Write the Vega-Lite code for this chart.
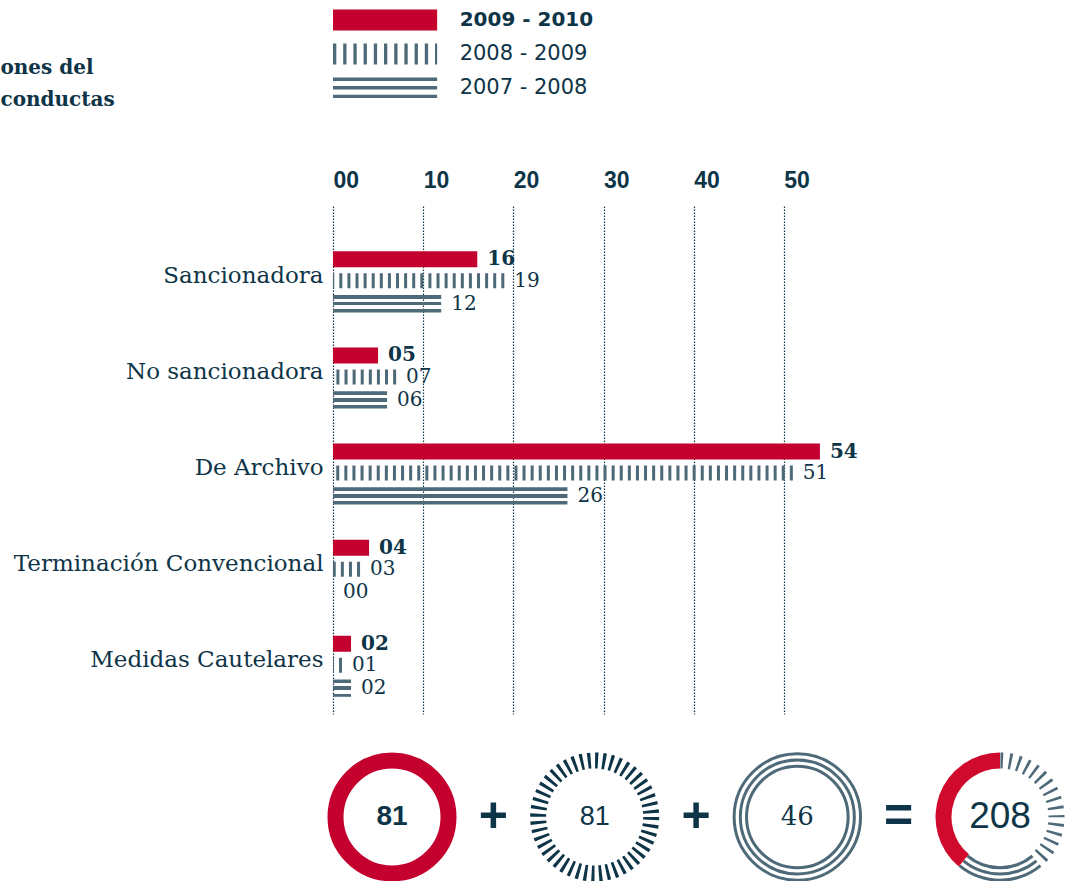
{
  "$schema": "https://vega.github.io/schema/vega-lite/v6.json",
  "background": "white",
  "padding": 0,
  "spacing": 14,
  "config": {"view": {"stroke": null}},
  "datasets": {
    "bars": [
      {"category": "Sancionadora", "series": "2009 - 2010", "value": 16},
      {"category": "Sancionadora", "series": "2008 - 2009", "value": 19},
      {"category": "Sancionadora", "series": "2007 - 2008", "value": 12},
      {"category": "No sancionadora", "series": "2009 - 2010", "value": 5},
      {"category": "No sancionadora", "series": "2008 - 2009", "value": 7},
      {"category": "No sancionadora", "series": "2007 - 2008", "value": 6},
      {"category": "De Archivo", "series": "2009 - 2010", "value": 54},
      {"category": "De Archivo", "series": "2008 - 2009", "value": 51},
      {"category": "De Archivo", "series": "2007 - 2008", "value": 26},
      {"category": "Terminación Convencional", "series": "2009 - 2010", "value": 4},
      {"category": "Terminación Convencional", "series": "2008 - 2009", "value": 3},
      {"category": "Terminación Convencional", "series": "2007 - 2008", "value": 0},
      {"category": "Medidas Cautelares", "series": "2009 - 2010", "value": 2},
      {"category": "Medidas Cautelares", "series": "2008 - 2009", "value": 1},
      {"category": "Medidas Cautelares", "series": "2007 - 2008", "value": 2}
    ],
    "ops": [
      {"slot": "op1", "sym": "+"},
      {"slot": "op2", "sym": "+"},
      {"slot": "op3", "sym": "="}
    ]
  },
  "vconcat": [
    {
      "width": 541,
      "height": 155,
      "data": {"name": "bars"},
      "transform": [{"aggregate": [{"op": "sum", "field": "value", "as": "total"}], "groupby": ["series"]}],
      "encoding": {
        "y": {"field": "series", "type": "nominal", "scale": {"type": "point", "domain": ["2009 - 2010", "2008 - 2009", "2007 - 2008"], "range": [20, 87.8], "padding": 0}, "axis": null}
      },
      "layer": [
        {
          "transform": [{"filter": "datum.series === '2009 - 2010'"}],
          "mark": {"type": "rule", "color": "#c4002f", "strokeWidth": 21, "strokeCap": "butt"},
          "encoding": {"x": {"datum": 0, "type": "quantitative", "scale": {"domain": [0, 60], "nice": false}, "axis": null}, "x2": {"datum": 11.55}}
        },
        {
          "transform": [{"filter": "datum.series === '2008 - 2009'"}],
          "mark": {"type": "rule", "color": "#4e6a78", "strokeWidth": 21, "strokeCap": "butt", "strokeDash": [3.3, 6.9]},
          "encoding": {"x": {"datum": 0, "type": "quantitative"}, "x2": {"datum": 11.55}}
        },
        {
          "transform": [{"filter": "datum.series === '2007 - 2008'"}],
          "mark": {"type": "rule", "color": "#4e6a78", "strokeWidth": 3.4, "strokeCap": "butt", "yOffset": -8.6},
          "encoding": {"x": {"datum": 0, "type": "quantitative"}, "x2": {"datum": 11.55}}
        },
        {
          "transform": [{"filter": "datum.series === '2007 - 2008'"}],
          "mark": {"type": "rule", "color": "#4e6a78", "strokeWidth": 3.4, "strokeCap": "butt"},
          "encoding": {"x": {"datum": 0, "type": "quantitative"}, "x2": {"datum": 11.55}}
        },
        {
          "transform": [{"filter": "datum.series === '2007 - 2008'"}],
          "mark": {"type": "rule", "color": "#4e6a78", "strokeWidth": 3.4, "strokeCap": "butt", "yOffset": 8.6},
          "encoding": {"x": {"datum": 0, "type": "quantitative"}, "x2": {"datum": 11.55}}
        },
        {
          "transform": [{"filter": "datum.series === '2009 - 2010'"}],
          "mark": {"type": "text", "align": "left", "baseline": "middle", "dx": 22.5, "font": "DejaVu Sans", "fontWeight": "bold", "fontSize": 20, "color": "#0e3447"},
          "encoding": {"x": {"datum": 11.55, "type": "quantitative"}, "text": {"field": "series", "type": "nominal"}}
        },
        {
          "transform": [{"filter": "datum.series !== '2009 - 2010'"}],
          "mark": {"type": "text", "align": "left", "baseline": "middle", "dx": 22.5, "font": "DejaVu Sans", "fontSize": 21, "color": "#0e3447"},
          "encoding": {"x": {"datum": 11.55, "type": "quantitative"}, "text": {"field": "series", "type": "nominal"}}
        },
        {
          "transform": [{"filter": "datum.series === '2007 - 2008'"}],
          "mark": {"type": "text", "align": "left", "baseline": "middle", "dy": -19.8, "font": "DejaVu Serif", "fontWeight": "bold", "fontSize": 20, "lineHeight": 32, "color": "#0e3447"},
          "encoding": {"x": {"datum": -36.88, "type": "quantitative"}, "text": {"value": ["ones del", "conductas"]}}
        }
      ]
    },
    {
      "width": 541,
      "height": 508,
      "data": {"name": "bars"},
      "encoding": {
        "y": {
          "field": "category", "type": "nominal",
          "scale": {"domain": ["Sancionadora", "No sancionadora", "De Archivo", "Terminación Convencional", "Medidas Cautelares"], "paddingInner": 0, "paddingOuter": 0.143, "align": 1},
          "axis": {"title": null, "ticks": false, "domain": false, "labelFont": "DejaVu Serif", "labelFontSize": 23, "labelColor": "#0e3447", "labelPadding": 10, "labelOffset": -6, "labelLimit": 400}
        }
      },
      "layer": [
        {
          "transform": [{"filter": "datum.series === '2009 - 2010'"}],
          "mark": {"type": "bar", "color": "#c4002f", "size": 16, "yOffset": -22.2},
          "encoding": {
            "x": {
              "field": "value", "type": "quantitative",
              "scale": {"domain": [0, 60], "nice": false},
              "axis": {"orient": "top", "values": [0, 10, 20, 30, 40, 50], "format": "02d", "title": null, "labelAlign": "left", "labelBaseline": "middle", "labelFont": "Liberation Sans", "labelFontWeight": "bold", "labelFontSize": 23, "labelColor": "#0e3447", "labelPadding": 26, "ticks": false, "tickSize": 0, "domain": false, "grid": true, "gridColor": "#0e3447", "gridDash": [1.5, 1.5], "gridWidth": 1.2, "gridOpacity": 1, "labelFlush": false, "labelOverlap": false}
            }
          }
        },
        {
          "transform": [{"filter": "datum.series === '2009 - 2010'"}],
          "mark": {"type": "text", "align": "left", "baseline": "middle", "dx": 10, "yOffset": -22.2, "font": "DejaVu Serif", "fontWeight": "bold", "fontSize": 20, "color": "#0e3447"},
          "encoding": {"x": {"field": "value", "type": "quantitative", "title": null}, "text": {"field": "value", "type": "quantitative", "format": "02d"}}
        },
        {
          "transform": [{"filter": "datum.series === '2008 - 2009'"}],
          "mark": {"type": "rule", "color": "#4e6a78", "strokeWidth": 15, "strokeDash": [3, 5.1], "strokeCap": "butt", "yOffset": -0.7},
          "encoding": {"x": {"field": "value", "type": "quantitative", "title": null}, "x2": {"datum": 0}}
        },
        {
          "transform": [{"filter": "datum.series === '2008 - 2009'"}],
          "mark": {"type": "text", "align": "left", "baseline": "middle", "dx": 10, "yOffset": -0.7, "font": "DejaVu Serif", "fontSize": 20, "color": "#0e3447"},
          "encoding": {"x": {"field": "value", "type": "quantitative", "title": null}, "text": {"field": "value", "type": "quantitative", "format": "02d"}}
        },
        {
          "transform": [{"filter": "datum.series === '2007 - 2008'"}],
          "mark": {
            "type": "bar", "size": 17.3, "yOffset": 22.2,
            "fill": {"gradient": "linear", "x1": 0, "y1": 0, "x2": 0, "y2": 1, "stops": [
              {"offset": 0, "color": "#4e6a78"}, {"offset": 0.2, "color": "#4e6a78"},
              {"offset": 0.2, "color": "rgba(255,255,255,0)"}, {"offset": 0.4, "color": "rgba(255,255,255,0)"},
              {"offset": 0.4, "color": "#4e6a78"}, {"offset": 0.6, "color": "#4e6a78"},
              {"offset": 0.6, "color": "rgba(255,255,255,0)"}, {"offset": 0.81, "color": "rgba(255,255,255,0)"},
              {"offset": 0.81, "color": "#4e6a78"}, {"offset": 1, "color": "#4e6a78"}
            ]}
          },
          "encoding": {"x": {"field": "value", "type": "quantitative", "title": null}}
        },
        {
          "transform": [{"filter": "datum.series === '2007 - 2008'"}],
          "mark": {"type": "text", "align": "left", "baseline": "middle", "dx": 10, "yOffset": 22.2, "font": "DejaVu Serif", "fontSize": 20, "color": "#0e3447"},
          "encoding": {"x": {"field": "value", "type": "quantitative", "title": null}, "text": {"field": "value", "type": "quantitative", "format": "02d"}}
        }
      ]
    },
    {
      "width": 700,
      "height": 100,
      "layer": [
        {
          "data": {"name": "bars"},
          "transform": [{"aggregate": [{"op": "sum", "field": "value", "as": "total"}], "groupby": ["series"]}, {"filter": "datum.series === '2009 - 2010'"}],
          "mark": {"type": "point", "shape": "circle", "filled": false, "stroke": "#c4002f", "strokeWidth": 16, "size": 12769, "opacity": 1},
          "encoding": {"x": {"field": "series", "type": "nominal", "scale": {"type": "point", "domain": ["2009 - 2010", "op1", "2008 - 2009", "op2", "2007 - 2008", "op3", "Total"], "range": [59, 667], "padding": 0}, "axis": null}}
        },
        {
          "data": {"name": "bars"},
          "transform": [{"aggregate": [{"op": "sum", "field": "value", "as": "total"}], "groupby": ["series"]}, {"filter": "datum.series === '2008 - 2009'"}],
          "mark": {"type": "point", "shape": "circle", "filled": false, "stroke": "#0e3447", "strokeWidth": 16, "strokeDash": [3, 4.396], "strokeCap": "butt", "size": 12769, "opacity": 1},
          "encoding": {"x": {"field": "series", "type": "nominal"}}
        },
        {
          "data": {"name": "bars"},
          "transform": [{"aggregate": [{"op": "sum", "field": "value", "as": "total"}], "groupby": ["series"]}, {"filter": "datum.series === '2007 - 2008'"}],
          "mark": {"type": "point", "shape": "circle", "filled": false, "stroke": "#4e6a78", "strokeWidth": 3, "size": 15977, "opacity": 1},
          "encoding": {"x": {"field": "series", "type": "nominal"}}
        },
        {
          "data": {"name": "bars"},
          "transform": [{"aggregate": [{"op": "sum", "field": "value", "as": "total"}], "groupby": ["series"]}, {"filter": "datum.series === '2007 - 2008'"}],
          "mark": {"type": "point", "shape": "circle", "filled": false, "stroke": "#4e6a78", "strokeWidth": 3, "size": 12996, "opacity": 1},
          "encoding": {"x": {"field": "series", "type": "nominal"}}
        },
        {
          "data": {"name": "bars"},
          "transform": [{"aggregate": [{"op": "sum", "field": "value", "as": "total"}], "groupby": ["series"]}, {"filter": "datum.series === '2007 - 2008'"}],
          "mark": {"type": "point", "shape": "circle", "filled": false, "stroke": "#4e6a78", "strokeWidth": 3, "size": 10322, "opacity": 1},
          "encoding": {"x": {"field": "series", "type": "nominal"}}
        },
        {
          "data": {"name": "bars"},
          "transform": [{"aggregate": [{"op": "sum", "field": "value", "as": "total"}], "groupby": ["series"]}, {"filter": "datum.series === '2008 - 2009'"}],
          "mark": {"type": "point", "shape": "circle", "filled": false, "stroke": "#4e6a78", "strokeWidth": 16, "strokeCap": "butt", "size": 12769, "opacity": 1,
            "strokeDash": [2.6, 6.04, 2.6, 6.04, 2.6, 6.04, 2.6, 6.04, 2.6, 6.04, 2.6, 6.04, 2.6, 6.04, 2.6, 6.04, 2.6, 6.04, 2.6, 6.04, 2.6, 6.04, 2.6, 6.04, 2.6, 6.04, 2.6, 6.04, 2.6, 6.04, 2.6, 222.8],
            "strokeDashOffset": 88.75},
          "encoding": {"x": {"datum": "Total", "type": "nominal"}}
        },
        {
          "data": {"name": "bars"},
          "transform": [{"aggregate": [{"op": "sum", "field": "value", "as": "total"}], "groupby": ["series"]}],
          "mark": {"type": "arc", "innerRadius": 48.5, "outerRadius": 64.5},
          "encoding": {
            "x": {"datum": "Total", "type": "nominal"},
            "theta": {"field": "total", "type": "quantitative", "stack": true, "scale": {"range": [-2.4468, 3.8364]}},
            "order": {"field": "series", "type": "ordinal", "sort": "descending"},
            "detail": {"field": "series", "type": "nominal"},
            "fill": {"condition": {"test": "datum.series === '2009 - 2010'", "value": "#cf0a2c"}, "value": "transparent"}
          }
        },
        {
          "data": {"name": "bars"},
          "transform": [{"aggregate": [{"op": "sum", "field": "value", "as": "total"}], "groupby": ["series"]}],
          "mark": {"type": "arc", "innerRadius": 61.7, "outerRadius": 64.7},
          "encoding": {
            "x": {"datum": "Total", "type": "nominal"},
            "theta": {"field": "total", "type": "quantitative", "stack": true},
            "order": {"field": "series", "type": "ordinal", "sort": "descending"},
            "detail": {"field": "series", "type": "nominal"},
            "fill": {"condition": {"test": "datum.series === '2007 - 2008'", "value": "#4e6a78"}, "value": "transparent"}
          }
        },
        {
          "data": {"name": "bars"},
          "transform": [{"aggregate": [{"op": "sum", "field": "value", "as": "total"}], "groupby": ["series"]}],
          "mark": {"type": "arc", "innerRadius": 55.5, "outerRadius": 58.5},
          "encoding": {
            "x": {"datum": "Total", "type": "nominal"},
            "theta": {"field": "total", "type": "quantitative", "stack": true},
            "order": {"field": "series", "type": "ordinal", "sort": "descending"},
            "detail": {"field": "series", "type": "nominal"},
            "fill": {"condition": {"test": "datum.series === '2007 - 2008'", "value": "#4e6a78"}, "value": "transparent"}
          }
        },
        {
          "data": {"name": "bars"},
          "transform": [{"aggregate": [{"op": "sum", "field": "value", "as": "total"}], "groupby": ["series"]}],
          "mark": {"type": "arc", "innerRadius": 49.3, "outerRadius": 52.3},
          "encoding": {
            "x": {"datum": "Total", "type": "nominal"},
            "theta": {"field": "total", "type": "quantitative", "stack": true},
            "order": {"field": "series", "type": "ordinal", "sort": "descending"},
            "detail": {"field": "series", "type": "nominal"},
            "fill": {"condition": {"test": "datum.series === '2007 - 2008'", "value": "#4e6a78"}, "value": "transparent"}
          }
        },
        {
          "data": {"name": "bars"},
          "transform": [{"aggregate": [{"op": "sum", "field": "value", "as": "total"}], "groupby": ["series"]}, {"filter": "datum.series === '2009 - 2010'"}],
          "mark": {"type": "text", "baseline": "middle", "font": "Liberation Sans", "fontWeight": "bold", "fontSize": 28, "color": "#0e3447"},
          "encoding": {"x": {"field": "series", "type": "nominal"}, "text": {"field": "total", "type": "quantitative"}}
        },
        {
          "data": {"name": "bars"},
          "transform": [{"aggregate": [{"op": "sum", "field": "value", "as": "total"}], "groupby": ["series"]}, {"filter": "datum.series === '2008 - 2009'"}],
          "mark": {"type": "text", "baseline": "middle", "font": "Liberation Sans", "fontSize": 27, "color": "#0e3447"},
          "encoding": {"x": {"field": "series", "type": "nominal"}, "text": {"field": "total", "type": "quantitative"}}
        },
        {
          "data": {"name": "bars"},
          "transform": [{"aggregate": [{"op": "sum", "field": "value", "as": "total"}], "groupby": ["series"]}, {"filter": "datum.series === '2007 - 2008'"}],
          "mark": {"type": "text", "baseline": "middle", "font": "DejaVu Serif", "fontSize": 26, "color": "#0e3447"},
          "encoding": {"x": {"field": "series", "type": "nominal"}, "text": {"field": "total", "type": "quantitative"}}
        },
        {
          "data": {"name": "bars"},
          "transform": [{"aggregate": [{"op": "sum", "field": "value", "as": "grand"}]}],
          "mark": {"type": "text", "baseline": "middle", "font": "Liberation Sans", "fontSize": 37, "color": "#0e3447"},
          "encoding": {"x": {"datum": "Total", "type": "nominal"}, "text": {"field": "grand", "type": "quantitative"}}
        },
        {
          "data": {"name": "ops"},
          "mark": {"type": "text", "baseline": "middle", "font": "Liberation Sans", "fontWeight": "bold", "fontSize": 50, "color": "#0e3447"},
          "encoding": {"x": {"field": "slot", "type": "nominal"}, "text": {"field": "sym", "type": "nominal"}}
        }
      ]
    }
  ]
}
